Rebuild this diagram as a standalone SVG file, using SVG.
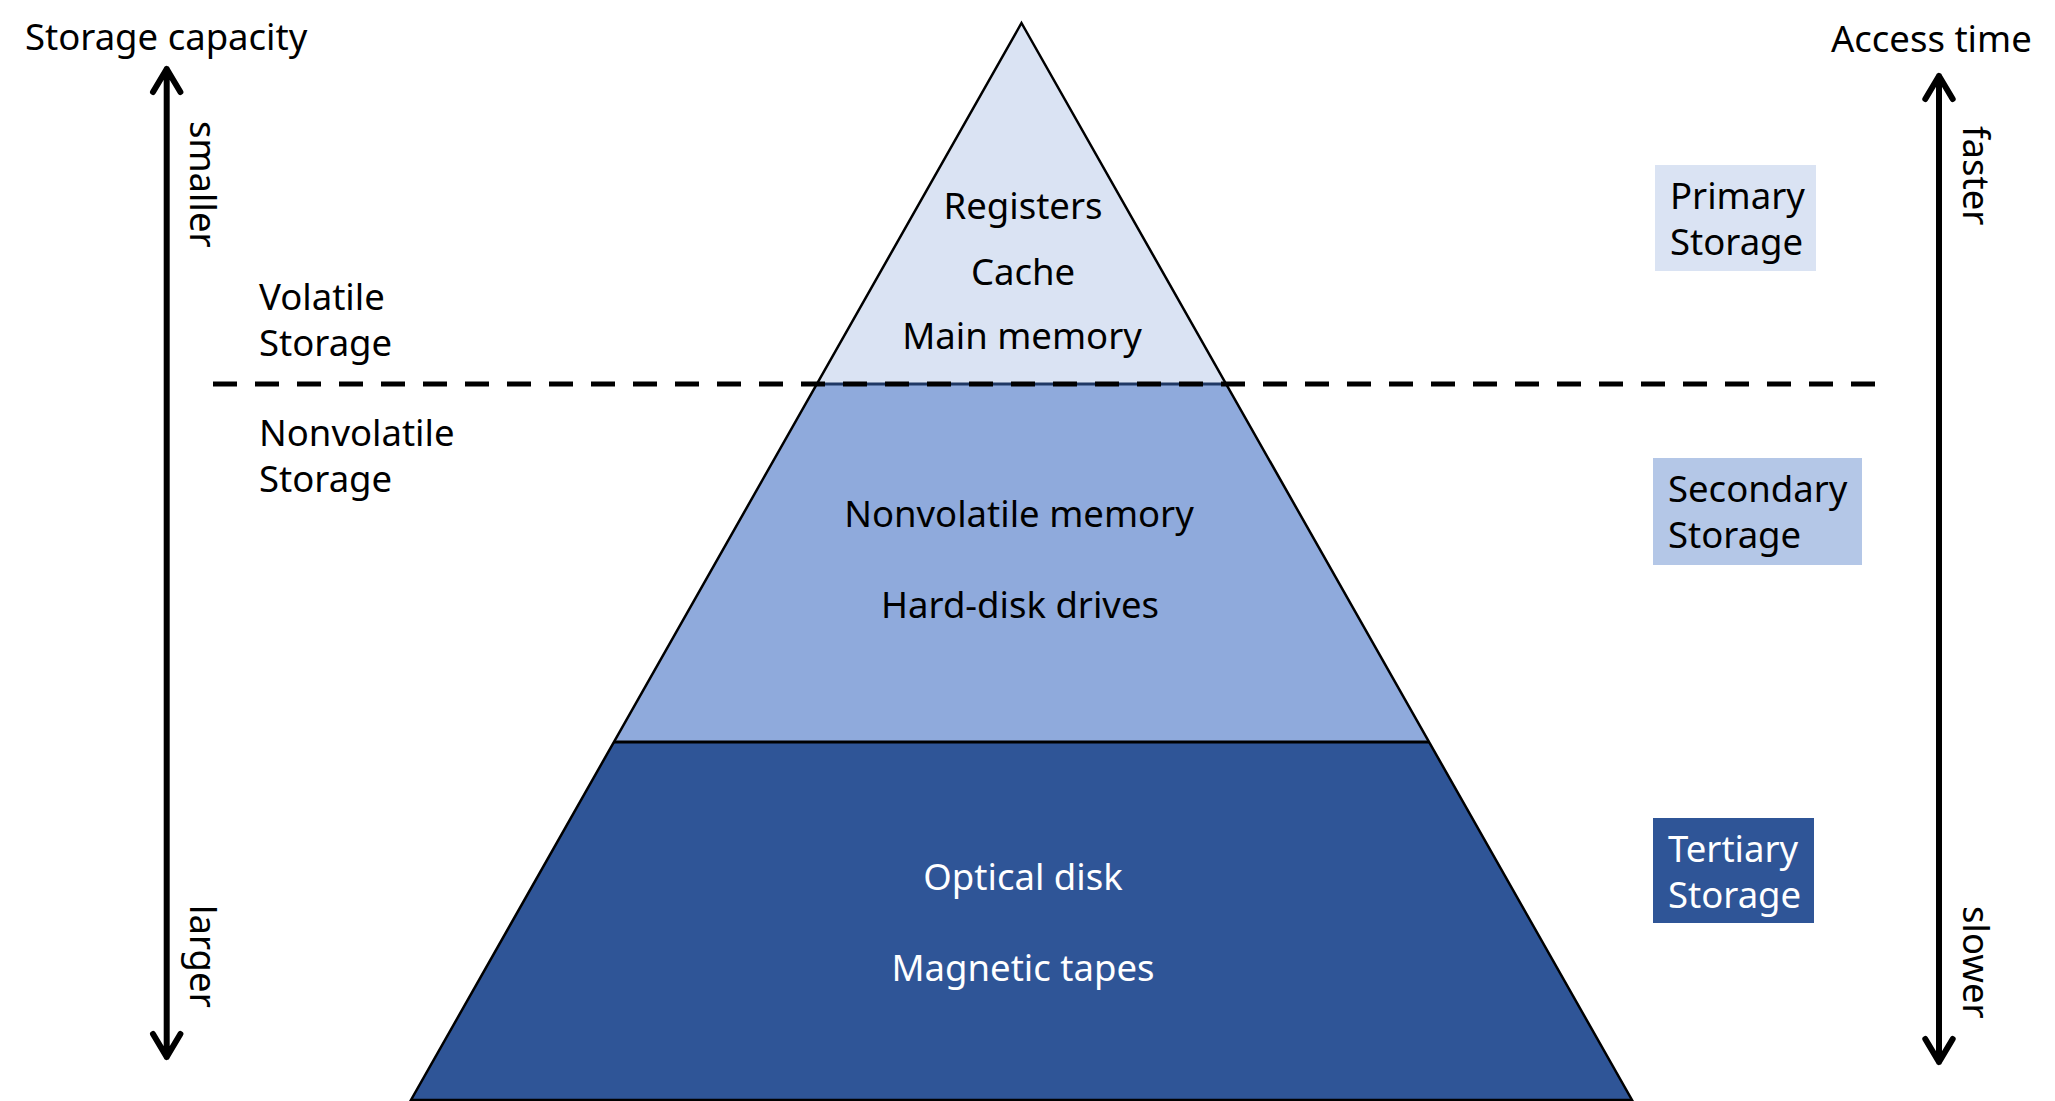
<svg xmlns="http://www.w3.org/2000/svg" width="2055" height="1101" viewBox="0 0 2055 1101">
  <style>
    text { font-family: "Noto Sans", "Open Sans", sans-serif; font-size: 36.5px; fill: #000; }
    .c { text-anchor: middle; }
    .w { fill: #fff; }
    .edge { fill: none; stroke: #000; stroke-width: 2.5; stroke-linejoin: miter; }
    .axis { fill: none; stroke: #000; stroke-width: 6; stroke-linecap: round; stroke-linejoin: round; }
    .dash { stroke: #000; stroke-width: 5; stroke-dasharray: 24 18; }
  </style>

  <!-- pyramid bands -->
  <g id="band-primary">
    <polygon points="1021.5,23 1226,384 817,384" fill="#DAE3F3"/>
    <text class="c" x="1023" y="219">Registers</text>
    <text class="c" x="1023" y="285">Cache</text>
    <text class="c" x="1022" y="349">Main memory</text>
  </g>
  <g id="band-secondary">
    <polygon points="817,384 1226,384 1429,742 614,742" fill="#8FAADC"/>
    <line x1="817" y1="384" x2="1226" y2="384" stroke="#1F3864" stroke-width="3"/>
    <text class="c" x="1019" y="527">Nonvolatile memory</text>
    <text class="c" x="1020" y="618">Hard-disk drives</text>
  </g>
  <g id="band-tertiary">
    <polygon points="614,742 1429,742 1632,1100 411,1100" fill="#2F5597"/>
    <line x1="614" y1="742" x2="1429" y2="742" stroke="#000" stroke-width="3"/>
    <text class="c w" x="1023" y="890">Optical disk</text>
    <text class="c w" x="1023" y="981">Magnetic tapes</text>
  </g>
  <polygon class="edge" points="1021.5,23 1632,1100 411,1100"/>

  <!-- volatile / nonvolatile divider -->
  <g id="divider">
    <line class="dash" x1="213" y1="384" x2="1877" y2="384"/>
    <text x="259" y="310">Volatile</text>
    <text x="259" y="356">Storage</text>
    <text x="259" y="446">Nonvolatile</text>
    <text x="259" y="492">Storage</text>
  </g>

  <!-- storage class labels -->
  <g id="label-primary">
    <rect x="1655" y="165" width="161" height="106" fill="#DAE3F3"/>
    <text x="1670" y="209">Primary</text>
    <text x="1670" y="255">Storage</text>
  </g>
  <g id="label-secondary">
    <rect x="1653" y="458" width="209" height="107" fill="#B4C7E7"/>
    <text x="1668" y="502">Secondary</text>
    <text x="1668" y="548">Storage</text>
  </g>
  <g id="label-tertiary">
    <rect x="1653" y="818" width="161" height="105" fill="#2F5597"/>
    <text class="w" x="1668" y="862">Tertiary</text>
    <text class="w" x="1668" y="908">Storage</text>
  </g>

  <!-- axes -->
  <g id="connectors">
    <path class="axis" d="M166.7,69 V1057 M153,92 L166.7,69 L180.4,92 M153,1034 L166.7,1057 L180.4,1034"/>
    <path class="axis" d="M1939,76 V1062 M1925.3,99 L1939,76 L1952.7,99 M1925.3,1039 L1939,1062 L1952.7,1039"/>
  </g>
  <g id="axis-capacity">
    <text x="25" y="50">Storage capacity</text>
    <text transform="translate(190,121) rotate(90)">smaller</text>
    <text transform="translate(190,905) rotate(90)">larger</text>
  </g>
  <g id="axis-access">
    <text x="1831" y="52">Access time</text>
    <text transform="translate(1963,126) rotate(90)">faster</text>
    <text transform="translate(1963,906) rotate(90)">slower</text>
  </g>
</svg>
